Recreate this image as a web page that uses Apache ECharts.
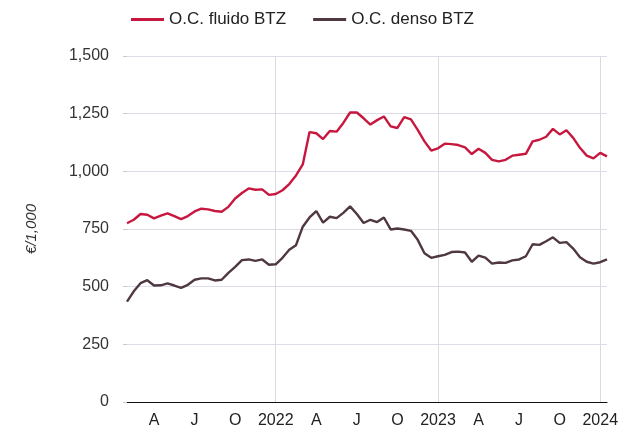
<!DOCTYPE html>
<html>
<head>
<meta charset="utf-8">
<script src="https://cdn.jsdelivr.net/npm/echarts@6/dist/echarts.min.js"></script>
<style>
  html, body { margin: 0; padding: 0; background: #fff; }
  #chart { width: 624px; height: 432px; }
</style>
</head>
<body>
<div id="chart"></div>
<script>
// semi-monthly sample dates (1st and 16th), Feb 2021 .. Jan 2024
const startYear = 2021
const startMonth = 2
const nPoints = 72

// O.C. fluido BTZ (€/1,000)
const fluido = [
  775, 790, 815, 812, 796, 808, 818, 806, 793, 806,
  826, 838, 835, 828, 825, 846, 882, 906, 926, 920,
  922, 898, 902, 918, 945, 982, 1030, 1170, 1165, 1140,
  1175, 1172, 1210, 1255, 1255, 1230, 1203, 1222, 1238, 1195,
  1188, 1235, 1225, 1180, 1130, 1090, 1100, 1120, 1118, 1114,
  1104, 1075, 1098, 1080, 1050, 1043, 1050, 1068, 1072, 1076,
  1130, 1137, 1150, 1184, 1160, 1178, 1145, 1102, 1068, 1056,
  1080, 1065,
]

// O.C. denso BTZ (€/1,000)
const denso = [
  435, 480, 515, 528, 505, 506, 514, 505, 495, 508,
  530, 536, 536, 527, 530, 560, 586, 615, 618, 612,
  618, 595, 597, 625, 660, 680, 760, 800, 828, 778,
  803, 797, 820, 848, 815, 776, 790, 780, 800, 748,
  752, 748, 742, 703, 645, 625, 632, 638, 650, 652,
  648, 608, 635, 626, 600, 605, 603, 614, 618, 632,
  684, 681, 697, 714, 690, 693, 665, 628, 608, 600,
  606, 618,
]

const seriesNames = ['O.C. fluido BTZ', 'O.C. denso BTZ']
const monthLetters = { 4: 'A', 7: 'J', 10: 'O' }

// category labels "YYYY-MM-DD"
const dates = []
for (let i = 0; i < nPoints; i++) {
  const m0 = startMonth - 1 + Math.floor(i / 2)
  const y = startYear + Math.floor(m0 / 12)
  const m = (m0 % 12) + 1
  const d = i % 2 === 0 ? 1 : 16
  dates.push(`${y}-${String(m).padStart(2, '0')}-${String(d).padStart(2, '0')}`)
}

function parts(s) {
  const [y, m, d] = s.split('-').map(Number)
  return { y, m, d }
}
function isQuarter(idx) {
  const { m, d } = parts(dates[idx])
  return d === 1 && (m === 1 || m === 4 || m === 7 || m === 10)
}
function isYear(idx) {
  const { m, d } = parts(dates[idx])
  return d === 1 && m === 1
}

const chart = echarts.init(document.getElementById('chart'), null, { renderer: 'canvas' })

chart.setOption({
  backgroundColor: '#fff',
  animation: false,
  textStyle: { fontFamily: 'Liberation Sans, Arial, sans-serif' },
  legend: {
    top: 6,
    left: 126,
    itemWidth: 33,
    itemHeight: 3,
    itemGap: 27,
    icon: 'rect',
    textStyle: { fontSize: 17, color: '#222' },
    data: seriesNames,
  },
  grid: { left: 127, right: 17, top: 56, bottom: 30 },
  xAxis: {
    type: 'category',
    boundaryGap: false,
    data: dates,
    axisLine: { lineStyle: { color: '#111', width: 1.2 } },
    axisTick: { show: false },
    axisLabel: {
      interval: (idx) => isQuarter(idx),
      fontSize: 16,
      color: '#222',
      margin: 11,
      formatter: (v) => {
        const { y, m } = parts(v)
        return m === 1 ? String(y) : monthLetters[m]
      },
    },
    splitLine: {
      show: true,
      interval: (idx) => isYear(idx),
      lineStyle: { color: '#d6dbe6', width: 1 },
    },
  },
  yAxis: {
    type: 'value',
    min: 0,
    max: 1500,
    interval: 250,
    name: '€/1,000',
    nameLocation: 'middle',
    nameGap: 88,
    nameRotate: 90,
    nameTextStyle: { fontSize: 15, fontStyle: 'italic', color: '#333' },
    axisLine: { show: false },
    axisTick: { show: true, length: 4, lineStyle: { color: '#c8c8d0' } },
    axisLabel: {
      fontSize: 16,
      color: '#333',
      margin: 18,
      formatter: (v) => v.toLocaleString('en-US'),
    },
    splitLine: { lineStyle: { color: '#dcdde6', width: 1 } },
  },
  series: [
    {
      name: seriesNames[0],
      type: 'line',
      data: fluido,
      showSymbol: false,
      symbol: 'none',
      lineStyle: { color: '#c8173f', width: 2.4 },
      itemStyle: { color: '#c8173f' },
    },
    {
      name: seriesNames[1],
      type: 'line',
      data: denso,
      showSymbol: false,
      symbol: 'none',
      lineStyle: { color: '#4f3840', width: 2.4 },
      itemStyle: { color: '#4f3840' },
    },
  ],
})
</script>
</body>
</html>
